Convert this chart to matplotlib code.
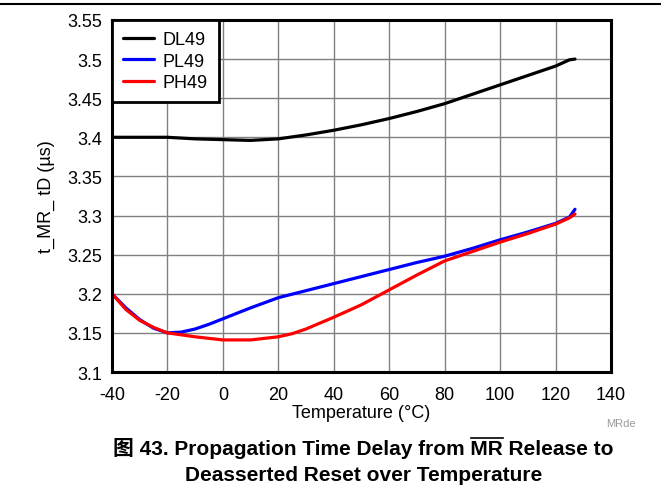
import matplotlib
matplotlib.use("Agg")
import matplotlib.pyplot as plt
from matplotlib.lines import Line2D

plt.rcParams["font.family"] = ["Liberation Sans", "Noto Sans CJK SC", "DejaVu Sans"]

# Temperature (°C) and delay (µs)
dl49_t = [-40, -30, -20, -10, 0, 10, 20, 30, 40, 50, 60, 70, 80, 90, 100, 110, 120, 125, 127]
dl49_v = [3.400, 3.400, 3.400, 3.398, 3.397, 3.396, 3.398, 3.403, 3.409, 3.416, 3.424,
          3.433, 3.443, 3.455, 3.467, 3.479, 3.491, 3.499, 3.500]

pl49_t = [-40, -35, -30, -25, -20, -15, -10, -5, 0, 10, 20, 30, 40, 50, 60, 70, 80,
          90, 100, 110, 120, 125, 126, 127]
pl49_v = [3.200, 3.182, 3.167, 3.156, 3.150, 3.151, 3.155, 3.161, 3.168, 3.182, 3.195,
          3.204, 3.213, 3.222, 3.231, 3.240, 3.248, 3.258, 3.269, 3.279, 3.290, 3.298,
          3.303, 3.308]

ph49_t = [-40, -35, -30, -25, -20, -10, 0, 10, 20, 25, 30, 40, 50, 60, 70, 80, 90,
          100, 110, 120, 125, 127]
ph49_v = [3.200, 3.180, 3.166, 3.157, 3.150, 3.145, 3.141, 3.141, 3.145, 3.149, 3.155,
          3.170, 3.186, 3.205, 3.224, 3.242, 3.254, 3.266, 3.277, 3.289, 3.297, 3.302]

x_ticks = [-40, -20, 0, 20, 40, 60, 80, 100, 120, 140]
y_ticks = [3.1, 3.15, 3.2, 3.25, 3.3, 3.35, 3.4, 3.45, 3.5, 3.55]
y_labels = ["3.1", "3.15", "3.2", "3.25", "3.3", "3.35", "3.4", "3.45", "3.5", "3.55"]

fig = plt.figure(figsize=(6.61, 4.89), dpi=100)
ax = fig.add_axes([0.1694, 0.2372, 0.755, 0.72])

lw = 2.3
ax.plot(dl49_t, dl49_v, color="black", lw=lw, label="DL49", solid_capstyle="round")
ax.plot(pl49_t, pl49_v, color="#0000ff", lw=lw, label="PL49", solid_capstyle="round")
ax.plot(ph49_t, ph49_v, color="#ff0000", lw=lw, label="PH49", solid_capstyle="round")

ax.set_xlim(-40, 140)
ax.set_ylim(3.1, 3.55)
ax.set_xticks(x_ticks)
ax.set_xticklabels([str(t) for t in x_ticks])
ax.set_yticks(y_ticks)
ax.set_yticklabels(y_labels)
ax.tick_params(axis="y", length=0, labelsize=13, pad=7)
ax.tick_params(axis="x", length=0, labelsize=13, pad=10)
ax.grid(True, color="#808080", lw=1)
ax.set_axisbelow(True)
for s in ax.spines.values():
    s.set_linewidth(2.2)

ax.set_xlabel("Temperature (°C)", fontsize=13, labelpad=1)
ax.set_ylabel("t_MR_ tD (µs)", fontsize=13, labelpad=9)

leg = ax.legend(loc="upper left", fontsize=13, handlelength=1.7, handletextpad=0.5,
                borderaxespad=0, borderpad=0.62, labelspacing=0.25, fancybox=False,
                framealpha=1)
leg.get_frame().set_edgecolor("black")
leg.get_frame().set_linewidth(2)

# top rule of the page
fig.add_artist(Line2D([0, 1], [0.990, 0.990], color="black", lw=1.5))

fig.text(0.962, 0.127, "MRde", fontsize=8, color="#999999", ha="right")

line1 = "图 43. Propagation Time Delay from MR Release to"
t1 = fig.text(0.55, 0.0818, line1, fontsize=15, fontweight="bold", ha="center",
              va="center")
fig.text(0.55, 0.0276, "Deasserted Reset over Temperature", fontsize=15,
         fontweight="bold", ha="center", va="center")

# overline over "MR"
fig.canvas.draw()
r = fig.canvas.get_renderer()
bb = t1.get_window_extent(r)
pre = fig.text(0, 0, "图 43. Propagation Time Delay from ", fontsize=15, fontweight="bold")
mr = fig.text(0, 0, "MR", fontsize=15, fontweight="bold")
w_pre = pre.get_window_extent(r).width
w_mr = mr.get_window_extent(r).width
pre.remove()
mr.remove()
W, H = fig.bbox.width, fig.bbox.height
x0 = (bb.x0 + w_pre) / W
x1 = (bb.x0 + w_pre + w_mr) / W
yov = (bb.y1 - 1) / H
fig.add_artist(Line2D([x0, x1], [yov, yov], color="black", lw=1.2))

fig.savefig("out.png", dpi=100)
